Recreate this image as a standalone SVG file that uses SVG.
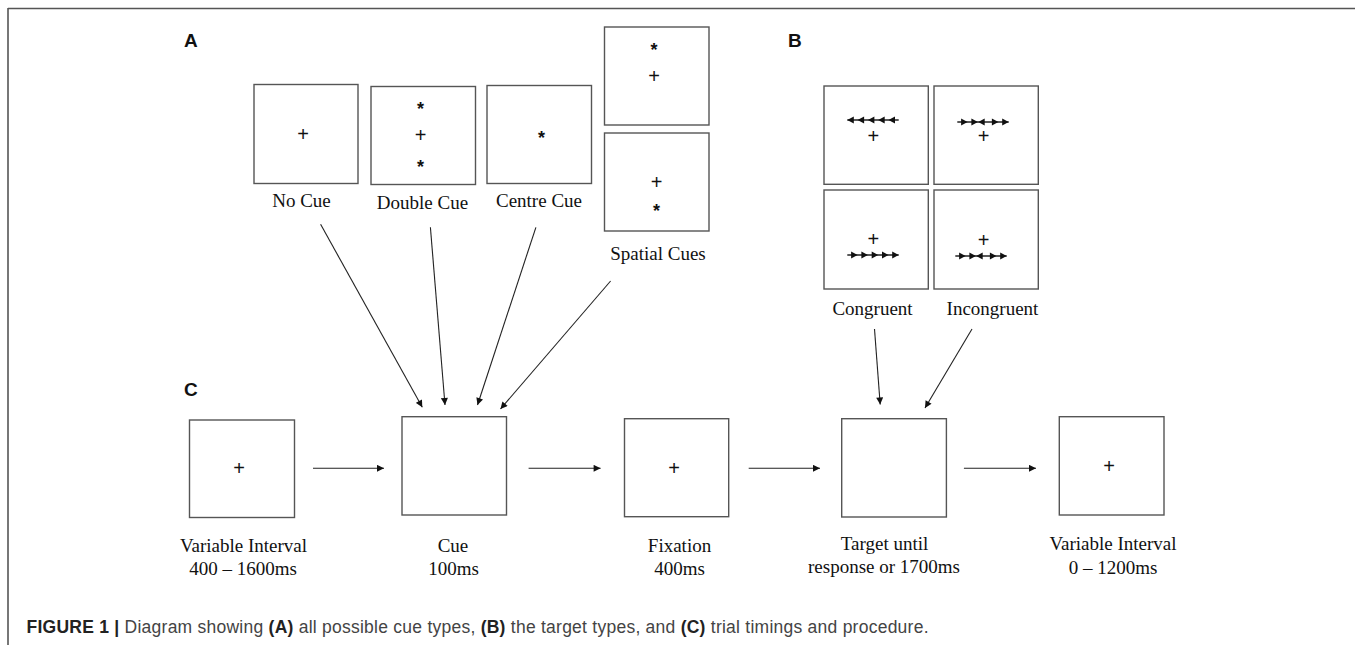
<svg xmlns="http://www.w3.org/2000/svg" width="1355" height="645" viewBox="0 0 1355 645">
<defs>
<style>
.box{fill:#fff;stroke:#555;stroke-width:1.4}
.lbl{font-family:"Liberation Serif","Times New Roman",serif;font-size:19px;fill:#111;text-anchor:middle}
.pan{font-family:"Liberation Sans",Arial,sans-serif;font-size:19px;font-weight:bold;fill:#111}
.fx{font-family:"Liberation Sans",Arial,sans-serif;font-size:20px;fill:#111;text-anchor:middle}
.ast{font-family:"Liberation Sans",Arial,sans-serif;font-size:18px;font-weight:bold;fill:#111;text-anchor:middle}
.con{stroke:#222;stroke-width:1.1;fill:none;marker-end:url(#ah)}
.fl{stroke:#222;stroke-width:1.3}
.cap{font-family:"Liberation Sans",Arial,sans-serif;font-size:17.5px;fill:#444}
.capb{font-weight:bold;fill:#222}
</style>
<marker id="ah" viewBox="0 0 10 10" refX="10" refY="5" markerWidth="8" markerHeight="7" markerUnits="userSpaceOnUse" orient="auto">
<path d="M0,0 L10,5 L0,10 z" fill="#111"/>
</marker>
<path id="hr" d="M0,0 L-6.5,-3.6 L-6.5,3.6 z" fill="#111"/>
<path id="hl" d="M0,0 L6.5,-3.6 L6.5,3.6 z" fill="#111"/>
</defs>
<rect width="1355" height="645" fill="#fff"/>
<g id="frame">
<line x1="8" y1="8.5" x2="1355" y2="8.5" stroke="#555" stroke-width="1.6"/>
<line x1="8" y1="8" x2="8" y2="645" stroke="#555" stroke-width="1.6"/>
</g>
<text class="pan" x="184" y="47">A</text>
<text class="pan" x="788" y="47">B</text>
<text class="pan" x="184" y="396">C</text>

<g id="no-cue">
<rect class="box" x="254" y="84.5" width="104" height="99"/>
<text class="fx" x="303" y="141">+</text>
<text class="lbl" x="301.5" y="207">No Cue</text>
</g>
<g id="double-cue">
<rect class="box" x="371" y="86.5" width="104.5" height="98"/>
<text class="ast" x="420.5" y="114.5">*</text>
<text class="fx" x="420.5" y="141.5">+</text>
<text class="ast" x="420.5" y="172.5">*</text>
<text class="lbl" x="422.5" y="209">Double Cue</text>
</g>
<g id="centre-cue">
<rect class="box" x="487" y="85.5" width="104.5" height="98"/>
<text class="ast" x="541.5" y="143.5">*</text>
<text class="lbl" x="539" y="206.5">Centre Cue</text>
</g>
<g id="spatial-cues">
<rect class="box" x="604.5" y="27" width="104.5" height="98"/>
<text class="ast" x="654" y="56">*</text>
<text class="fx" x="654" y="82.5">+</text>
<rect class="box" x="604.5" y="133" width="104.5" height="98"/>
<text class="fx" x="656.5" y="189">+</text>
<text class="ast" x="656.5" y="216.5">*</text>
<text class="lbl" x="658" y="260">Spatial Cues</text>
</g>

<g id="congruent">
<rect class="box" x="824" y="86" width="104.3" height="98.3"/>
<line class="fl" x1="847.3" y1="120" x2="898.7" y2="120"/>
<use href="#hl" x="847.3" y="120"/><use href="#hl" x="857.6" y="120"/><use href="#hl" x="867.9" y="120"/><use href="#hl" x="878.2" y="120"/><use href="#hl" x="888.5" y="120"/>
<text class="fx" x="873.3" y="142.5">+</text>
<rect class="box" x="824" y="190" width="104.3" height="99"/>
<text class="fx" x="873.3" y="246">+</text>
<line class="fl" x1="847.3" y1="255" x2="898.7" y2="255"/>
<use href="#hr" x="857.6" y="255"/><use href="#hr" x="867.9" y="255"/><use href="#hr" x="878.2" y="255"/><use href="#hr" x="888.5" y="255"/><use href="#hr" x="898.7" y="255"/>
<text class="lbl" x="872.5" y="315">Congruent</text>
</g>
<g id="incongruent">
<rect class="box" x="934" y="86" width="104.3" height="98.3"/>
<line class="fl" x1="957.3" y1="122" x2="1008.7" y2="122"/>
<use href="#hr" x="967.6" y="122"/><use href="#hr" x="977.9" y="122"/><use href="#hl" x="978.2" y="122"/><use href="#hr" x="998.4" y="122"/><use href="#hr" x="1008.7" y="122"/>
<text class="fx" x="983.7" y="142.5">+</text>
<rect class="box" x="934" y="190" width="104.3" height="99"/>
<text class="fx" x="983.7" y="246.5">+</text>
<line class="fl" x1="955.3" y1="256" x2="1006.7" y2="256"/>
<use href="#hr" x="965.6" y="256"/><use href="#hr" x="975.9" y="256"/><use href="#hl" x="976.2" y="256"/><use href="#hr" x="996.4" y="256"/><use href="#hr" x="1006.7" y="256"/>
<text class="lbl" x="992.5" y="315">Incongruent</text>
</g>

<g id="variable-interval-1">
<rect class="box" x="189.5" y="420" width="105" height="97.5"/>
<text class="fx" x="239" y="475">+</text>
<text class="lbl" x="243.5" y="552">Variable Interval</text>
<text class="lbl" x="243" y="575">400 – 1600ms</text>
</g>
<g id="cue">
<rect class="box" x="402" y="416.7" width="104.5" height="98.3"/>
<text class="lbl" x="453" y="552">Cue</text>
<text class="lbl" x="453.5" y="575">100ms</text>
</g>
<g id="fixation">
<rect class="box" x="624.5" y="418.7" width="104.2" height="98"/>
<text class="fx" x="674" y="475">+</text>
<text class="lbl" x="679.5" y="552">Fixation</text>
<text class="lbl" x="679.5" y="574.5">400ms</text>
</g>
<g id="target">
<rect class="box" x="841.7" y="418.7" width="104.7" height="98.3"/>
<text class="lbl" x="884.5" y="550">Target until</text>
<text class="lbl" x="884" y="573">response or 1700ms</text>
</g>
<g id="variable-interval-2">
<rect class="box" x="1059.3" y="416.7" width="104.7" height="98.3"/>
<text class="fx" x="1109" y="472.5">+</text>
<text class="lbl" x="1113" y="550">Variable Interval</text>
<text class="lbl" x="1113" y="573.5">0 – 1200ms</text>
</g>

<g id="connectors">
<line class="con" x1="320.6" y1="224.3" x2="422.3" y2="407.3"/>
<line class="con" x1="430.4" y1="227.3" x2="445" y2="405"/>
<line class="con" x1="535.9" y1="227.3" x2="477.5" y2="405"/>
<line class="con" x1="610.6" y1="281" x2="500.5" y2="409"/>
<line class="con" x1="874.5" y1="329" x2="880.2" y2="404.5"/>
<line class="con" x1="972" y1="329" x2="925" y2="408"/>
<line class="con" x1="313" y1="468.3" x2="384" y2="468.3"/>
<line class="con" x1="528.6" y1="468.3" x2="600.6" y2="468.3"/>
<line class="con" x1="748.7" y1="468.3" x2="820" y2="468.3"/>
<line class="con" x1="963.9" y1="468.3" x2="1036" y2="468.3"/>
</g>

<text class="cap" x="26.5" y="633" textLength="902" lengthAdjust="spacing"><tspan class="capb">FIGURE 1 | </tspan>Diagram showing <tspan class="capb">(A)</tspan> all possible cue types, <tspan class="capb">(B)</tspan> the target types, and <tspan class="capb">(C)</tspan> trial timings and procedure.</text>
</svg>
